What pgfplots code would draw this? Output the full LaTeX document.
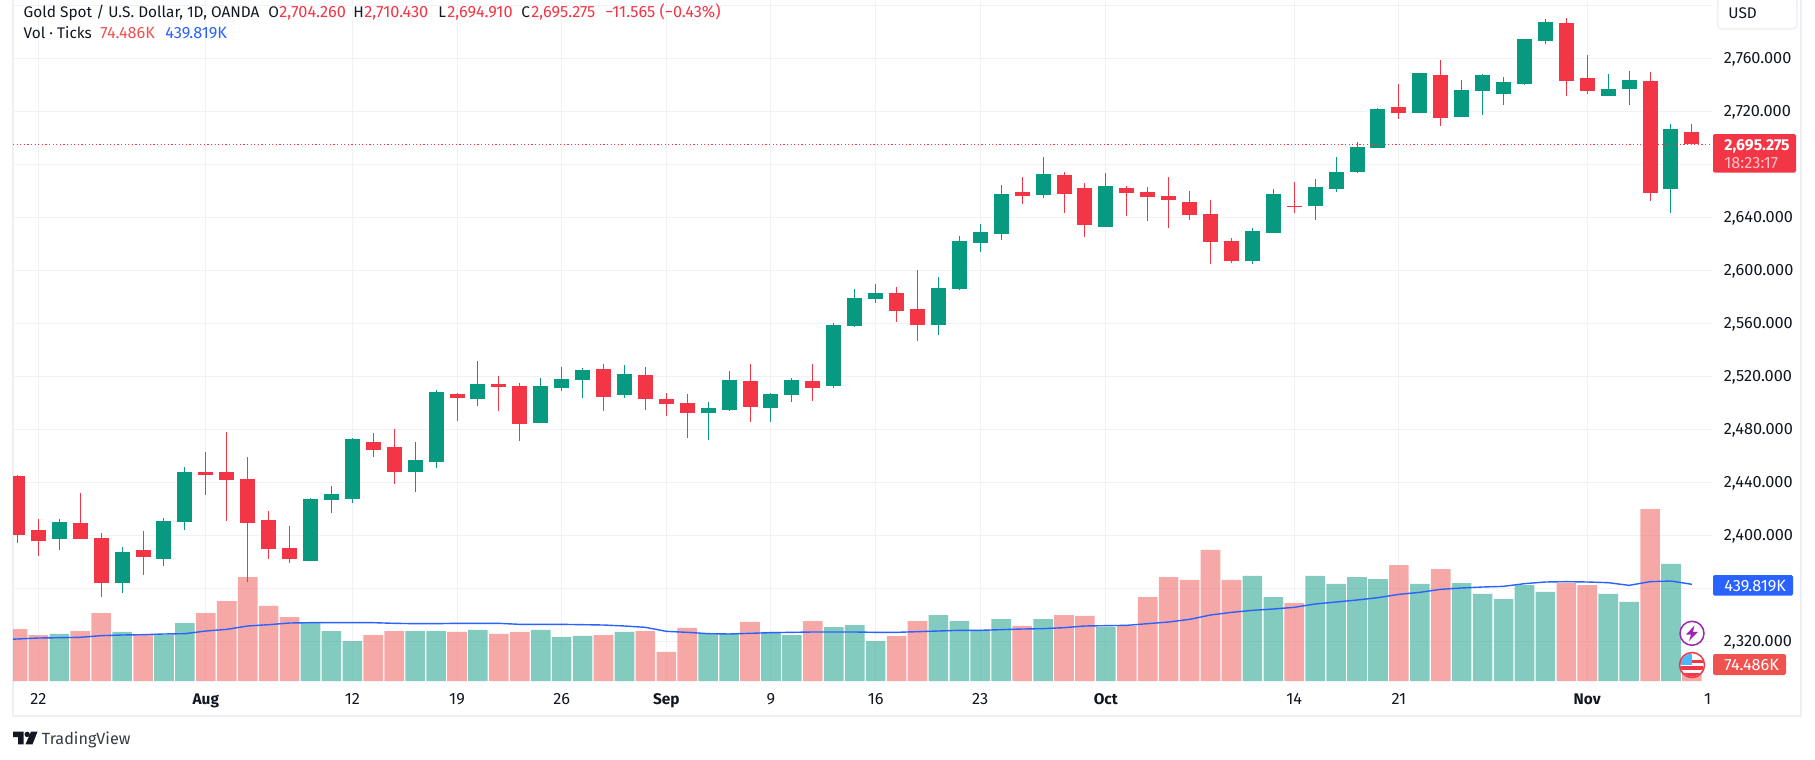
\documentclass[border=0pt]{standalone}
\usepackage{fontspec}
\setmainfont{Fira Sans}
\usepackage{pgfplots}
\usepackage{pgfplotstable}
\pgfplotsset{compat=1.18}

\definecolor{tvgreen}{HTML}{089981}
\definecolor{tvred}{HTML}{F23645}
\definecolor{tvsalmon}{HTML}{EF5350}
\definecolor{tvblue}{HTML}{2962FF}
\definecolor{tvgrid}{HTML}{F1F2F5}
\definecolor{tvframe}{HTML}{EEEEF5}
\definecolor{tvtext}{HTML}{131722}
\definecolor{tvpurple}{HTML}{9C27B0}

% 1 reference pixel = 0.5pt, session index 0 = 22 Jul
\pgfplotstableread{
i open high low close vol
1 2397.2 2412.3 2388.9 2410.1 213.9
4 2364.0 2391.2 2356.5 2387.4 223.0
6 2382.1 2413.1 2376.9 2410.8 209.3
7 2410.1 2451.6 2404.0 2447.8 263.9
13 2380.6 2428.2 2380.6 2427.4 263.9
14 2426.7 2437.2 2416.9 2431.2 227.5
15 2427.4 2473.5 2424.4 2472.7 182.0
18 2447.8 2470.4 2432.7 2456.9 227.5
19 2455.3 2509.7 2450.8 2508.2 227.5
21 2502.9 2531.6 2497.6 2514.2 232.1
24 2484.8 2518.7 2484.8 2512.7 232.1
25 2511.2 2527.0 2508.9 2518.0 200.2
26 2517.2 2526.3 2503.6 2524.8 204.8
28 2505.9 2528.6 2503.6 2521.8 223.0
32 2492.3 2500.6 2472.0 2496.1 213.9
33 2494.6 2524.0 2493.8 2517.2 213.9
35 2496.1 2507.4 2485.5 2506.7 223.0
36 2505.9 2518.7 2500.6 2517.2 209.3
38 2512.7 2560.0 2511.2 2558.7 245.7
39 2558.0 2585.9 2557.2 2579.1 254.8
40 2578.4 2589.7 2575.3 2582.9 182.0
43 2558.7 2595.0 2551.2 2586.7 300.3
44 2585.9 2625.9 2585.2 2622.1 273.0
45 2620.6 2635.0 2613.8 2628.9 232.1
46 2627.4 2664.4 2622.9 2657.6 282.1
48 2656.9 2685.5 2654.6 2672.7 282.1
51 2632.7 2673.5 2632.7 2663.6 245.7
58 2607.0 2632.0 2604.8 2629.7 477.8
59 2628.2 2661.4 2628.2 2657.6 382.2
61 2648.6 2668.9 2638.0 2662.9 477.8
62 2661.4 2685.5 2659.1 2674.2 441.4
63 2674.2 2696.9 2673.5 2693.1 473.2
64 2692.3 2722.5 2692.3 2721.8 464.1
66 2718.7 2748.9 2718.7 2748.9 441.4
68 2715.7 2743.6 2715.7 2736.1 445.9
69 2735.3 2748.2 2717.2 2747.4 395.9
70 2733.1 2745.9 2724.8 2742.1 373.1
71 2740.6 2774.6 2739.9 2774.6 436.8
72 2773.1 2789.7 2770.8 2787.4 405.0
75 2731.6 2748.2 2731.6 2736.9 395.9
76 2736.9 2750.4 2724.8 2743.6 359.5
78 2661.4 2710.4 2643.3 2706.7 532.4
}\upcandles

\pgfplotstableread{
i open high low close vol
-1 2444.8 2445.5 2394.5 2400.3 236.6
0 2404.0 2412.3 2384.4 2395.7 209.3
2 2409.3 2432.0 2397.2 2397.2 227.5
3 2398.0 2401.8 2353.5 2364.0 309.4
5 2388.9 2403.3 2370.1 2383.6 209.3
8 2447.8 2462.9 2430.4 2445.5 309.4
9 2447.8 2478.0 2410.8 2441.8 364.0
10 2442.5 2459.1 2365.0 2409.3 473.2
11 2411.6 2418.4 2382.1 2389.7 341.3
12 2390.4 2407.0 2379.1 2382.1 291.2
16 2470.4 2477.2 2459.1 2464.4 209.3
17 2466.7 2480.3 2438.7 2447.8 227.5
20 2506.7 2507.4 2486.3 2503.6 223.0
22 2514.2 2520.3 2493.8 2512.0 213.9
23 2512.7 2515.0 2471.2 2484.0 223.0
27 2525.5 2529.3 2493.8 2504.4 209.3
29 2521.0 2527.0 2494.6 2502.9 227.5
30 2502.9 2507.4 2490.1 2499.1 132.0
31 2499.9 2506.7 2473.5 2492.3 241.2
34 2516.5 2529.3 2485.5 2496.9 268.5
37 2516.5 2529.3 2501.4 2511.2 273.0
41 2582.9 2587.4 2561.0 2569.3 204.8
42 2570.8 2600.3 2546.7 2558.7 273.0
47 2659.1 2670.4 2650.1 2656.1 250.3
49 2672.0 2674.2 2643.3 2657.6 300.3
50 2662.1 2665.9 2625.2 2634.2 295.8
52 2662.1 2663.6 2641.0 2658.4 250.3
53 2659.1 2662.9 2637.2 2655.3 382.2
54 2656.1 2670.4 2632.0 2653.1 473.2
55 2651.6 2659.9 2638.0 2641.8 459.6
56 2642.5 2653.1 2604.8 2621.4 596.1
57 2622.1 2624.4 2605.5 2607.0 459.6
60 2648.6 2666.7 2643.3 2647.8 354.9
65 2723.3 2740.6 2714.2 2718.7 527.8
67 2747.4 2758.7 2708.9 2715.0 509.6
73 2786.7 2790.4 2731.6 2742.9 445.9
74 2745.2 2762.5 2733.1 2735.3 436.8
77 2742.9 2749.7 2652.3 2658.4 782.6
79 2704.26 2710.43 2694.91 2695.275 74.486
}\downcandles

\pgfplotstableread{
i ma
-2 189.0
-1 191.1
0 195.7
1 197.0
2 198.8
3 206.3
4 209.3
5 210.8
6 213.9
7 215.4
8 227.5
9 235.1
10 250.3
11 256.3
12 263.9
13 265.4
14 265.4
15 265.4
16 265.4
17 262.4
18 260.9
19 260.9
20 262.4
21 262.4
22 262.4
23 257.8
24 257.8
25 257.8
26 256.3
27 254.8
28 250.3
29 244.2
30 226.0
31 221.4
32 215.4
33 213.9
34 216.9
35 219.9
36 221.4
37 223.0
38 223.0
39 223.0
40 221.4
41 221.4
42 224.5
43 227.5
44 230.6
45 230.6
46 233.6
47 236.6
48 238.1
49 242.7
50 250.3
51 251.8
52 253.3
53 260.9
54 268.5
55 280.6
56 300.3
57 312.4
58 321.5
59 327.6
60 335.2
61 350.4
62 359.5
63 368.6
64 379.2
65 394.3
66 403.4
67 417.1
68 423.2
69 427.7
70 430.7
71 442.9
72 450.5
73 452.0
74 450.5
75 447.4
76 435.2
77 452.0
78 455.0
79 439.819
}\matable

\newcommand{\tvfont}{\fontsize{7.7}{9}\selectfont}
\newcommand{\tvnum}{\fontsize{8.15}{9.5}\selectfont}

\pgfplotsset{
  tvpane/.style={
    scale only axis, width=849.4pt, height=340.5pt,
    at={(6.5pt,-340.5pt)}, anchor=south west,
    xmin=-1.2136, xmax=79.95,
    axis line style={draw=none},
    major tick length=0pt,
  },
  wick/.style={
    forget plot, draw=none, mark=none,
    error bars/.cd, y dir=both, y explicit, error mark=none,
    error bar style={color=#1, line width=0.5pt},
  },
  body/.style={
    forget plot, draw=none, mark=none,
    error bars/.cd, y dir=both, y explicit, error mark=none,
    error bar style={color=#1, line width=7.5pt},
  },
}

\begin{document}
\begin{tikzpicture}
\path[use as bounding box, fill=white] (0pt,0pt) rectangle (907.5pt,-380pt);
\draw[tvframe, line width=0.9pt] (6.5pt,0pt) -- (6.5pt,-358pt) -- (900.5pt,-358pt) -- (900.5pt,0pt);

% price pane: grid and scales
\begin{axis}[tvpane,
  ymin=2290.04, ymax=2804,
  grid=major, grid style={tvgrid, line width=0.5pt},
  xtick={0,8,15,20,25,30,35,40,45,51,60,65,74},
  xticklabels={22,{\tvfont\textbf{Aug}},12,19,26,{\tvfont\textbf{Sep}},9,16,23,{\tvfont\textbf{Oct}},14,21,{\tvfont\textbf{Nov}}},
  extra x ticks={79.75}, extra x tick labels={1},
  extra x tick style={grid=none},
  x tick label style={font=\tvnum, text=tvtext, anchor=base, inner ysep=0pt, yshift=-11.5pt},
  ytick={2320,2360,2400,2440,2480,2520,2560,2600,2640,2680,2720,2760,2800},
  yticklabels={{2,320.000},,{2,400.000},{2,440.000},{2,480.000},{2,520.000},{2,560.000},{2,600.000},{2,640.000},,{2,720.000},{2,760.000},},
  yticklabel pos=right,
  y tick label style={font=\tvnum, text=tvtext, anchor=west, inner xsep=0pt, xshift=5.85pt, yshift=-0.4pt},
]
\end{axis}

% volume pane
\begin{axis}[tvpane,
  ymin=0, ymax=3098.55,
  ticks=none,
  ybar, bar width=9.8pt, bar shift=0pt,
]
\addplot[draw=none, fill=tvgreen, fill opacity=0.5] table[x=i, y=vol] {\upcandles};
\addplot[draw=none, fill=tvsalmon, fill opacity=0.5] table[x=i, y=vol] {\downcandles};
\end{axis}
\begin{axis}[tvpane, ymin=0, ymax=3098.55, ticks=none]
\addplot[tvblue, line width=0.7pt, no marks] table[x=i, y=ma] {\matable};
\end{axis}

% candles
\begin{axis}[tvpane, ymin=2290.04, ymax=2804, ticks=none]
\addplot[wick=tvgreen] table[x=i, y expr=(\thisrow{high}+\thisrow{low})/2, y error expr=(\thisrow{high}-\thisrow{low})/2] {\upcandles};
\addplot[wick=tvred] table[x=i, y expr=(\thisrow{high}+\thisrow{low})/2, y error expr=(\thisrow{high}-\thisrow{low})/2] {\downcandles};
\addplot[body=tvgreen] table[x=i, y expr=(\thisrow{open}+\thisrow{close})/2, y error expr=abs(\thisrow{close}-\thisrow{open})/2] {\upcandles};
\addplot[body=tvred] table[x=i, y expr=(\thisrow{open}+\thisrow{close})/2, y error expr=abs(\thisrow{close}-\thisrow{open})/2] {\downcandles};
\addplot[tvred, line width=0.5pt, dash pattern=on 0.6pt off 1.2pt, no marks] coordinates {(-1.2136,2695.275) (79.95,2695.275)};
\end{axis}

% header, price tags, icons and logo: positions in reference pixels, y downwards
\begin{scope}[x=0.5pt, y=-0.5pt, every node/.style={inner sep=0pt, font=\tvfont}]
  \node[anchor=base west, text=tvtext] at (23.3,18) {Gold Spot / U.S. Dollar, 1D, OANDA};
  \node[anchor=base west, text=tvtext] at (268,18) {O};
  \node[anchor=base west, text=tvred, font=\tvnum] at (279,18) {2,704.260};
  \node[anchor=base west, text=tvtext] at (353,18) {H};
  \node[anchor=base west, text=tvred, font=\tvnum] at (364,18) {2,710.430};
  \node[anchor=base west, text=tvtext] at (438,18) {L};
  \node[anchor=base west, text=tvred, font=\tvnum] at (447,18) {2,694.910};
  \node[anchor=base west, text=tvtext] at (521,18) {C};
  \node[anchor=base west, text=tvred, font=\tvnum] at (531,18) {2,695.275};
  \node[anchor=base west, text=tvred, font=\tvnum] at (605,18) {−11.565 (−0.43\%)};
  \node[anchor=base west, text=tvtext] at (23.3,39) {Vol · Ticks};
  \node[anchor=base west, text=tvsalmon, font=\tvnum] at (100,39) {74.486K};
  \node[anchor=base west, text=tvblue, font=\tvnum] at (165,39) {439.819K};

  % currency button
  \draw[tvframe, line width=0.7pt, fill=white, rounded corners=2pt] (1717.6,-2) rectangle (1797,29);
  \node[anchor=base west, text=tvtext] at (1728,18.5) {USD};

  % price and volume tags
  \fill[tvred, rounded corners=0.8pt] (1713,134) rectangle (1796,172.7);
  \node[anchor=base west, text=white, font=\fontsize{7.9}{9}\selectfont] at (1724,150) {\textbf{2,695.275}};
  \node[anchor=base west, text=white!70!tvred, font=\tvnum] at (1724,168.5) {18:23:17};
  \fill[tvblue, rounded corners=0.8pt] (1713,575) rectangle (1793,595.7);
  \node[anchor=base west, text=white, font=\tvnum] at (1724,591.5) {439.819K};
  \fill[tvsalmon, rounded corners=0.8pt] (1713,654) rectangle (1786,675);
  \node[anchor=base west, text=white, font=\tvnum] at (1724,670) {74.486K};

  % event icons
  \draw[tvpurple, line width=0.75pt, fill=white] (1692,633.3) circle (12);
  \fill[tvpurple] (1694.5,625.5) -- (1686,634.5) -- (1691,634.5) -- (1689,641) -- (1698,631.8) -- (1693,631.8) -- cycle;
  \begin{scope}
    \clip (1692,665) circle (11.5);
    \fill[white] (1680,653) rectangle (1704,677);
    \fill[tvred] (1680,659.5) rectangle (1704,662.5);
    \fill[tvred] (1680,666) rectangle (1704,669.5);
    \fill[tvred] (1680,673) rectangle (1704,677);
    \fill[blue!40!cyan!70!white] (1680,653) rectangle (1692,665);
  \end{scope}
  \draw[tvred, line width=0.75pt] (1692,665) circle (12.5);

  % TradingView logo
  \fill[tvtext] (13,731.7) -- (23.5,731.7) -- (23.5,744.3) -- (18,744.3) -- (18,737) -- (13,737) -- cycle;
  \fill[tvtext] (27.2,734.4) circle (2.7);
  \fill[tvtext] (31,731.7) -- (37.5,731.7) -- (32.5,744.3) -- (25.5,744.3) -- cycle;
  \node[anchor=base west, text=tvtext!85!white, font=\fontsize{8.1}{10}\selectfont] at (41.5,744) {TradingView};
\end{scope}
\end{tikzpicture}
\end{document}
